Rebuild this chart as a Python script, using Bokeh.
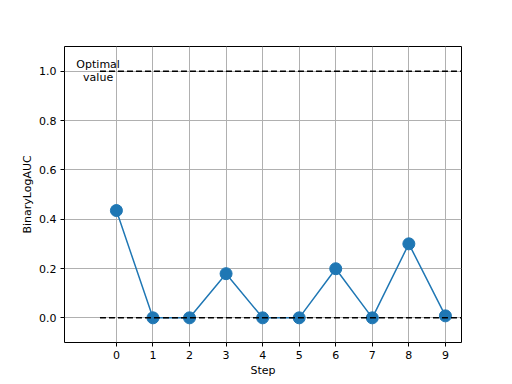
from bokeh.plotting import figure
from bokeh.models import Range1d, FixedTicker, NumeralTickFormatter, ColumnDataSource
from bokeh.core.properties import value
from bokeh.embed import file_html
from bokeh.resources import INLINE

steps = [0, 1, 2, 3, 4, 5, 6, 7, 8, 9]
auc = [0.435, 0.0, 0.0, 0.179, 0.0, 0.0, 0.199, 0.0, 0.30, 0.008]
ref_x = [-0.45, 9.45]
optimal_y = [1.0, 1.0]
zero_y = [0.0, 0.0]
x_ticks = [0, 1, 2, 3, 4, 5, 6, 7, 8, 9]
y_ticks = [0.0, 0.2, 0.4, 0.6, 0.8, 1.0]

FONT = "DejaVu Sans"

p = figure(output_backend="svg", toolbar_location=None,
           width=512, height=384,
           frame_width=397, frame_height=296,
           min_border_left=64, min_border_top=46, min_border_right=51, min_border_bottom=42,
           x_range=Range1d(-1.42, 9.44), y_range=Range1d(-0.10, 1.10))
p.background_fill_color = "white"
p.border_fill_color = "white"
p.outline_line_color = "black"
p.outline_line_width = 1
p.outline_line_alpha = 1.0

for ax in (p.xaxis[0], p.yaxis[0]):
    ax.major_label_text_font = FONT
    ax.major_label_text_font_size = "11px"
    ax.major_label_text_color = "black"
    ax.axis_label_text_font = FONT
    ax.axis_label_text_font_size = "11px"
    ax.axis_label_text_font_style = "normal"
    ax.axis_label_text_color = "black"
    ax.axis_line_color = None
    ax.major_tick_line_color = "black"
    ax.major_tick_out = 4
    ax.major_tick_in = 0
    ax.minor_tick_line_color = None

p.xaxis.ticker = FixedTicker(ticks=x_ticks)
p.yaxis.ticker = FixedTicker(ticks=y_ticks)
p.yaxis.formatter = NumeralTickFormatter(format="0.0")
p.xaxis.axis_label = "Step"
p.yaxis.axis_label = "BinaryLogAUC"
p.xaxis.axis_label_standoff = 2
p.yaxis.axis_label_standoff = 2
p.xaxis.major_label_standoff = 4
p.yaxis.major_label_standoff = 4

p.grid.grid_line_color = "#b0b0b0"
p.grid.grid_line_width = 1

src = ColumnDataSource(dict(x=steps, y=auc))
p.line("x", "y", source=src, line_color="#1f77b4", line_width=1.5)
p.scatter("x", "y", source=src, size=12, fill_color="#1f77b4", line_color="#1f77b4")

p.line(ref_x, optimal_y, line_color="black", line_dash="6 3", line_width=1.5)
p.line(ref_x, zero_y, line_color="black", line_dash="6 3", line_width=1.5)

p.text(x=[-0.5], y=[1.0], text=["Optimal\nvalue"], text_font=value(FONT),
       text_font_size="11px", text_align="center", text_baseline="middle",
       text_line_height=0.95, text_color="black")

open("out.html", "w").write(file_html(p, INLINE))
